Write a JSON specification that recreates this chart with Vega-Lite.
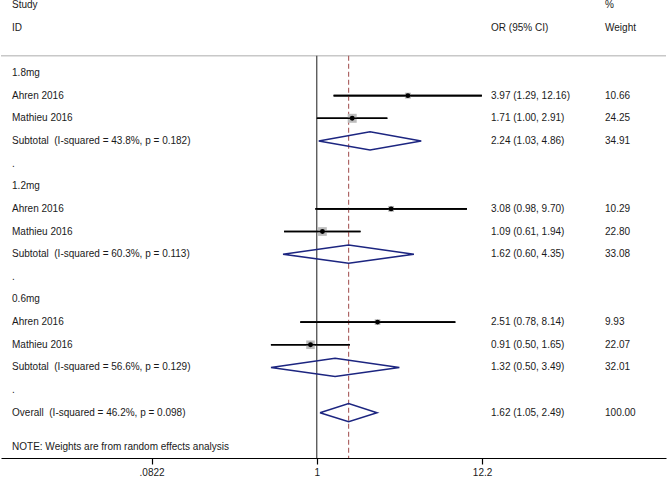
{
  "$schema": "https://vega.github.io/schema/vega-lite/v6.json",
  "width": 665,
  "height": 458,
  "padding": 0,
  "config": {
    "view": {"stroke": null},
    "axis": {"grid": false},
    "axisX": {"domainColor": "#000000", "domainWidth": 1.2, "tickColor": "#000000", "tickWidth": 1.2, "tickSize": 6, "labelFont": "Liberation Sans", "labelFontSize": 10, "labelColor": "#1a1a1a", "labelPadding": 3, "labelFlush": false},
    "text": {"font": "Liberation Sans", "fontSize": 10, "color": "#1a1a1a", "align": "left", "baseline": "middle"}
  },
  "datasets": {
    "studies": [
      {"row": 1, "or": 3.97, "lo": 1.29, "hi": 12.16, "w": 10.66},
      {"row": 2, "or": 1.71, "lo": 1.00, "hi": 2.91, "w": 24.25},
      {"row": 6, "or": 3.08, "lo": 0.98, "hi": 9.70, "w": 10.29},
      {"row": 7, "or": 1.09, "lo": 0.61, "hi": 1.94, "w": 22.80},
      {"row": 11, "or": 2.51, "lo": 0.78, "hi": 8.14, "w": 9.93},
      {"row": 12, "or": 0.91, "lo": 0.50, "hi": 1.65, "w": 22.07}
    ],
    "diamonds": [
      {"grp": "s1", "k": 0, "v": 1.03, "r": 3},
      {"grp": "s1", "k": 1, "v": 2.24, "r": 2.6},
      {"grp": "s1", "k": 2, "v": 4.86, "r": 3},
      {"grp": "s1", "k": 3, "v": 2.24, "r": 3.4},
      {"grp": "s1", "k": 4, "v": 1.03, "r": 3},
      {"grp": "s2", "k": 0, "v": 0.60, "r": 8},
      {"grp": "s2", "k": 1, "v": 1.62, "r": 7.6},
      {"grp": "s2", "k": 2, "v": 4.35, "r": 8},
      {"grp": "s2", "k": 3, "v": 1.62, "r": 8.4},
      {"grp": "s2", "k": 4, "v": 0.60, "r": 8},
      {"grp": "s3", "k": 0, "v": 0.50, "r": 13},
      {"grp": "s3", "k": 1, "v": 1.32, "r": 12.6},
      {"grp": "s3", "k": 2, "v": 3.49, "r": 13},
      {"grp": "s3", "k": 3, "v": 1.32, "r": 13.4},
      {"grp": "s3", "k": 4, "v": 0.50, "r": 13},
      {"grp": "ov", "k": 0, "v": 1.05, "r": 15},
      {"grp": "ov", "k": 1, "v": 1.62, "r": 14.6},
      {"grp": "ov", "k": 2, "v": 2.49, "r": 15},
      {"grp": "ov", "k": 3, "v": 1.62, "r": 15.4},
      {"grp": "ov", "k": 4, "v": 1.05, "r": 15}
    ],
    "labels": [
      {"row": -3, "t": "Study"},
      {"row": -2, "t": "ID"},
      {"row": 0, "t": "1.8mg"},
      {"row": 1, "t": "Ahren 2016"},
      {"row": 2, "t": "Mathieu 2016"},
      {"row": 3, "t": "Subtotal \u00a0(I-squared = 43.8%, p = 0.182)"},
      {"row": 4, "t": "."},
      {"row": 5, "t": "1.2mg"},
      {"row": 6, "t": "Ahren 2016"},
      {"row": 7, "t": "Mathieu 2016"},
      {"row": 8, "t": "Subtotal \u00a0(I-squared = 60.3%, p = 0.113)"},
      {"row": 9, "t": "."},
      {"row": 10, "t": "0.6mg"},
      {"row": 11, "t": "Ahren 2016"},
      {"row": 12, "t": "Mathieu 2016"},
      {"row": 13, "t": "Subtotal \u00a0(I-squared = 56.6%, p = 0.129)"},
      {"row": 14, "t": "."},
      {"row": 15, "t": "Overall \u00a0(I-squared = 46.2%, p = 0.098)"},
      {"row": 16.5, "t": "NOTE: Weights are from random effects analysis"}
    ],
    "orcol": [
      {"row": -2, "t": "OR (95% CI)"},
      {"row": 1, "t": "3.97 (1.29, 12.16)"},
      {"row": 2, "t": "1.71 (1.00, 2.91)"},
      {"row": 3, "t": "2.24 (1.03, 4.86)"},
      {"row": 6, "t": "3.08 (0.98, 9.70)"},
      {"row": 7, "t": "1.09 (0.61, 1.94)"},
      {"row": 8, "t": "1.62 (0.60, 4.35)"},
      {"row": 11, "t": "2.51 (0.78, 8.14)"},
      {"row": 12, "t": "0.91 (0.50, 1.65)"},
      {"row": 13, "t": "1.32 (0.50, 3.49)"},
      {"row": 15, "t": "1.62 (1.05, 2.49)"}
    ],
    "wcol": [
      {"row": -3, "t": "%"},
      {"row": -2, "t": "Weight"},
      {"row": 1, "t": "10.66"},
      {"row": 2, "t": "24.25"},
      {"row": 3, "t": "34.91"},
      {"row": 6, "t": "10.29"},
      {"row": 7, "t": "22.80"},
      {"row": 8, "t": "33.08"},
      {"row": 11, "t": "9.93"},
      {"row": 12, "t": "22.07"},
      {"row": 13, "t": "32.01"},
      {"row": 15, "t": "100.00"}
    ]
  },
  "layer": [
    {
      "data": {"name": "studies"},
      "mark": {"type": "rule", "color": "#000000", "strokeWidth": 1.6},
      "encoding": {
        "x": {"field": "lo", "type": "quantitative", "scale": {"type": "log", "domain": [0.00842, 197.2], "nice": false},
          "axis": {"values": [0.0822, 1, 12.2], "title": null, "labelExpr": "datum.value < 0.5 ? '.0822' : (datum.value > 5 ? '12.2' : '1')"}},
        "x2": {"field": "hi"},
        "y": {"field": "row", "type": "quantitative", "scale": {"type": "linear", "domain": [-3.223, 17], "reverse": true, "nice": false, "zero": false}, "axis": null}
      }
    },
    {
      "data": {"values": [{}]},
      "mark": {"type": "rule", "color": "#c8c8c8", "strokeWidth": 1.5},
      "encoding": {
        "y": {"datum": -0.764, "type": "quantitative", "scale": {"type": "linear", "domain": [-3.223, 17], "reverse": true, "nice": false, "zero": false}, "axis": null}
      }
    },
    {
      "data": {"values": [{}]},
      "mark": {"type": "rule", "color": "#505050", "strokeWidth": 1.3},
      "encoding": {
        "x": {"datum": 1, "type": "quantitative", "scale": {"type": "log", "domain": [0.00842, 197.2], "nice": false},
          "axis": {"values": [0.0822, 1, 12.2], "title": null, "labelExpr": "datum.value < 0.5 ? '.0822' : (datum.value > 5 ? '12.2' : '1')"}},
        "y": {"datum": -0.764, "type": "quantitative", "scale": {"type": "linear", "domain": [-3.223, 17], "reverse": true, "nice": false, "zero": false}, "axis": null},
        "y2": {"datum": 17}
      }
    },
    {
      "data": {"values": [{}]},
      "mark": {"type": "rule", "color": "#a85a5a", "strokeWidth": 1.1, "strokeDash": [5, 3]},
      "encoding": {
        "x": {"datum": 1.62, "type": "quantitative", "scale": {"type": "log", "domain": [0.00842, 197.2], "nice": false},
          "axis": {"values": [0.0822, 1, 12.2], "title": null, "labelExpr": "datum.value < 0.5 ? '.0822' : (datum.value > 5 ? '12.2' : '1')"}},
        "y": {"datum": -0.764, "type": "quantitative", "scale": {"type": "linear", "domain": [-3.223, 17], "reverse": true, "nice": false, "zero": false}, "axis": null},
        "y2": {"datum": 17}
      }
    },
    {
      "data": {"name": "studies"},
      "mark": {"type": "square", "color": "#bdbdbd", "opacity": 1},
      "encoding": {
        "x": {"field": "or", "type": "quantitative", "scale": {"type": "log", "domain": [0.00842, 197.2], "nice": false},
          "axis": {"values": [0.0822, 1, 12.2], "title": null, "labelExpr": "datum.value < 0.5 ? '.0822' : (datum.value > 5 ? '12.2' : '1')"}},
        "y": {"field": "row", "type": "quantitative", "scale": {"type": "linear", "domain": [-3.223, 17], "reverse": true, "nice": false, "zero": false}, "axis": null},
        "size": {"field": "w", "type": "quantitative", "scale": {"type": "linear", "domain": [0, 24.25], "range": [0, 81]}, "legend": null}
      }
    },
    {
      "data": {"name": "studies"},
      "mark": {"type": "rule", "color": "#000000", "strokeWidth": 1.6},
      "encoding": {
        "x": {"field": "lo", "type": "quantitative", "scale": {"type": "log", "domain": [0.00842, 197.2], "nice": false},
          "axis": {"values": [0.0822, 1, 12.2], "title": null, "labelExpr": "datum.value < 0.5 ? '.0822' : (datum.value > 5 ? '12.2' : '1')"}},
        "x2": {"field": "hi"},
        "y": {"field": "row", "type": "quantitative", "scale": {"type": "linear", "domain": [-3.223, 17], "reverse": true, "nice": false, "zero": false}, "axis": null}
      }
    },
    {
      "data": {"name": "studies"},
      "mark": {"type": "circle", "color": "#000000", "size": 24, "opacity": 1},
      "encoding": {
        "x": {"field": "or", "type": "quantitative", "scale": {"type": "log", "domain": [0.00842, 197.2], "nice": false},
          "axis": {"values": [0.0822, 1, 12.2], "title": null, "labelExpr": "datum.value < 0.5 ? '.0822' : (datum.value > 5 ? '12.2' : '1')"}},
        "y": {"field": "row", "type": "quantitative", "scale": {"type": "linear", "domain": [-3.223, 17], "reverse": true, "nice": false, "zero": false}, "axis": null}
      }
    },
    {
      "data": {"name": "diamonds"},
      "mark": {"type": "line", "color": "#1c2580", "strokeWidth": 1.5},
      "encoding": {
        "x": {"field": "v", "type": "quantitative", "scale": {"type": "log", "domain": [0.00842, 197.2], "nice": false},
          "axis": {"values": [0.0822, 1, 12.2], "title": null, "labelExpr": "datum.value < 0.5 ? '.0822' : (datum.value > 5 ? '12.2' : '1')"}},
        "y": {"field": "r", "type": "quantitative", "scale": {"type": "linear", "domain": [-3.223, 17], "reverse": true, "nice": false, "zero": false}, "axis": null},
        "detail": {"field": "grp"},
        "order": {"field": "k", "type": "quantitative"}
      }
    },
    {
      "data": {"name": "labels"},
      "mark": {"type": "text"},
      "encoding": {
        "x": {"datum": 0.00995, "type": "quantitative", "scale": {"type": "log", "domain": [0.00842, 197.2], "nice": false},
          "axis": {"values": [0.0822, 1, 12.2], "title": null, "labelExpr": "datum.value < 0.5 ? '.0822' : (datum.value > 5 ? '12.2' : '1')"}},
        "y": {"field": "row", "type": "quantitative", "scale": {"type": "linear", "domain": [-3.223, 17], "reverse": true, "nice": false, "zero": false}, "axis": null},
        "text": {"field": "t"}
      }
    },
    {
      "data": {"name": "orcol"},
      "mark": {"type": "text"},
      "encoding": {
        "x": {"datum": 13.97, "type": "quantitative", "scale": {"type": "log", "domain": [0.00842, 197.2], "nice": false},
          "axis": {"values": [0.0822, 1, 12.2], "title": null, "labelExpr": "datum.value < 0.5 ? '.0822' : (datum.value > 5 ? '12.2' : '1')"}},
        "y": {"field": "row", "type": "quantitative", "scale": {"type": "linear", "domain": [-3.223, 17], "reverse": true, "nice": false, "zero": false}, "axis": null},
        "text": {"field": "t"}
      }
    },
    {
      "data": {"name": "wcol"},
      "mark": {"type": "text"},
      "encoding": {
        "x": {"datum": 78.4, "type": "quantitative", "scale": {"type": "log", "domain": [0.00842, 197.2], "nice": false},
          "axis": {"values": [0.0822, 1, 12.2], "title": null, "labelExpr": "datum.value < 0.5 ? '.0822' : (datum.value > 5 ? '12.2' : '1')"}},
        "y": {"field": "row", "type": "quantitative", "scale": {"type": "linear", "domain": [-3.223, 17], "reverse": true, "nice": false, "zero": false}, "axis": null},
        "text": {"field": "t"}
      }
    }
  ]
}
